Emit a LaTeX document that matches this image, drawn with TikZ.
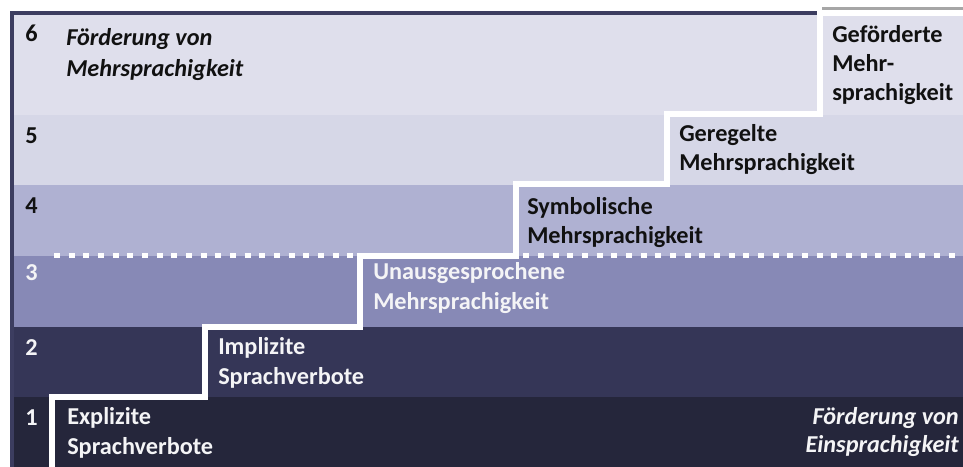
\documentclass[tikz,border=0pt]{standalone}
\usepackage{fontspec}
\setmainfont{Carlito}
\definecolor{bandsix}{HTML}{DFDFEC}
\definecolor{bandfive}{HTML}{D6D7E7}
\definecolor{bandfour}{HTML}{AFB1D2}
\definecolor{bandthree}{HTML}{8789B6}
\definecolor{bandtwo}{HTML}{353657}
\definecolor{bandone}{HTML}{25263B}
\definecolor{frameline}{HTML}{3C3D60}
\definecolor{darktxt}{HTML}{111111}
\definecolor{lighttxt}{HTML}{F4F4F6}
\begin{document}
\begin{tikzpicture}[x=0.75pt,y=-0.75pt,
  lbl/.style={anchor=base west, inner sep=0pt, align=left,
    font=\fontsize{18.2}{21.8}\selectfont\bfseries},
  lblit/.style={lbl, font=\fontsize{18.2}{23}\selectfont\bfseries\itshape},
  num/.style={lbl},
  dk/.style={text=darktxt},
  lt/.style={text=lighttxt},
  stair/.style={draw=white, line width=4.5pt, line join=miter},
  dots/.style={draw=white, line width=3.75pt, dash pattern=on 4.5pt off 6.5pt}]
\useasboundingbox (0,0) rectangle (963,467);
\fill[white] (0,0) rectangle (963,467);
% bands
\fill[bandsix]   (12,13)  rectangle (963,115);
\fill[bandsix]   (820,10) rectangle (963,115);
\fill[bandfive]  (12,115) rectangle (963,185);
\fill[bandfour]  (12,185) rectangle (963,255.5);
\fill[bandthree] (12,255.5) rectangle (963,327);
\fill[bandtwo]   (12,327) rectangle (963,397);
\fill[bandone]   (12,397) rectangle (963,467);
% frame
\draw[frameline, line width=3pt] (12,467) -- (12,13) -- (818,13);
\draw[black!35, line width=2.5pt] (822,8.5) -- (963,8.5);
% dotted separator
\draw[dots] (54,255.5) -- (963,255.5);
% staircase
\coordinate (s0) at (52,467);
\coordinate (s1) at (52,397);
\coordinate (s2) at (205,397);
\coordinate (s3) at (205,327);
\coordinate (s4) at (360,327);
\coordinate (s5) at (360,255.5);
\coordinate (s6) at (516,255.5);
\coordinate (s7) at (516,184);
\coordinate (s8) at (666.5,184);
\coordinate (s9) at (666.5,114);
\coordinate (s10) at (820,114);
\coordinate (s11) at (820,13);
\coordinate (s12) at (963,13);
\draw[stair] (s0) -- (s1) -- (s2) -- (s3) -- (s4) -- (s5) -- (s6) -- (s7)
  -- (s8) -- (s9) -- (s10) -- (s11) -- (s12);
% level numbers
\node[num,dk] (n6) at (25,42)  {6};
\node[num,dk] (n5) at (25,143) {5};
\node[num,dk] (n4) at (25,213) {4};
\node[num,lt] (n3) at (25,280) {3};
\node[num,lt] (n2) at (25,355) {2};
\node[num,lt] (n1) at (25,425) {1};
% labels (anchored at the baseline of their last line)
\node[lblit,dk] (ftop) at (66,76) {Förderung von\\Mehrsprachigkeit};
\node[lbl,dk] (l6) at (832,100.5) {Geförderte\\Mehr-\\sprachigkeit};
\node[lbl,dk] (l5) at (679,170.5) {Geregelte\\Mehrsprachigkeit};
\node[lbl,dk] (l4) at (527,243.5) {Symbolische\\Mehrsprachigkeit};
\node[lbl,lt] (l3) at (373,309) {Unausgesprochene\\Mehrsprachigkeit};
\node[lbl,lt] (l2) at (218,384) {Implizite\\Sprachverbote};
\node[lbl,lt] (l1) at (67,454) {Explizite\\Sprachverbote};
\node[lblit,lt, anchor=base east, align=right,
  font=\fontsize{18.2}{20.5}\selectfont\bfseries\itshape] (fbot) at (959,452)
  {Förderung von\\Einsprachigkeit};
\end{tikzpicture}
\end{document}
